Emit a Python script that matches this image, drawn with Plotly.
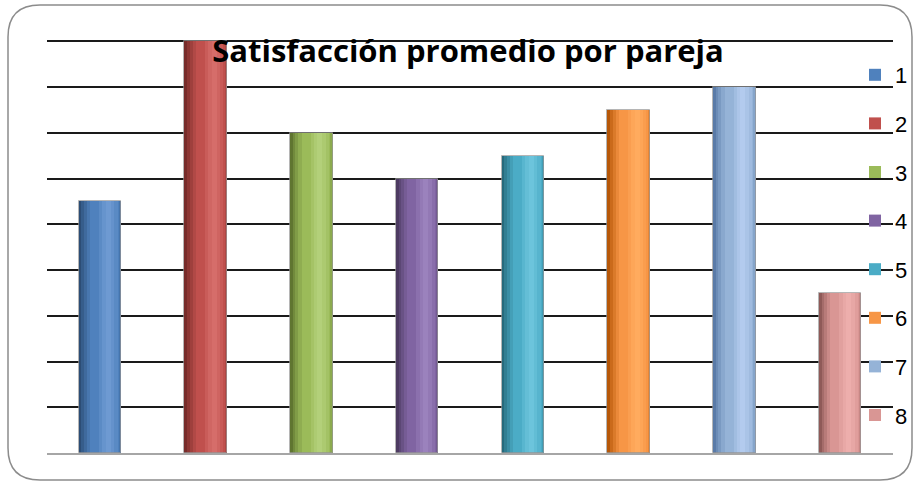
import plotly.graph_objects as go

# ---- data ----
categories = ["1", "2", "3", "4", "5", "6", "7", "8"]
values = [5.5, 9, 7, 6, 6.5, 7.5, 8, 3.5]
base_colors = ["#4F81BD", "#C0504D", "#9BBB59", "#8064A2", "#4BACC6", "#F79646", "#95B3D7", "#D99694"]
dark_colors = ["#2C4D75", "#772C2A", "#5F7530", "#4D3B62", "#276A7C", "#B65708", "#5A7BA8", "#8F5A58"]
light_colors = ["#6E9AD2", "#D66D6A", "#B3D07A", "#9B82BD", "#6CC4DC", "#FFAB5E", "#B3CBEE", "#EDAEAC"]
title_text = "Satisfacción promedio por pareja"

W, H = 918, 485
L, R, T, B = 47, 893, 39, 453  # plot area in pixels

fig = go.Figure()

bar_w = 0.4
xpos = list(range(len(categories)))

def mix(c1, c2, t):
    a = [int(c1[i:i + 2], 16) for i in (1, 3, 5)]
    b = [int(c2[i:i + 2], 16) for i in (1, 3, 5)]
    return "#" + "".join(f"{round(a[k] + (b[k] - a[k]) * t):02x}" for k in range(3))

for i, cat in enumerate(categories):
    bc, dc, lc = base_colors[i], dark_colors[i], light_colors[i]
    fig.add_trace(go.Bar(
        x=[xpos[i]], y=[values[i]], name=cat, legendgroup=cat,
        marker=dict(color=bc, line=dict(width=0)),
        width=bar_w, offset=-bar_w / 2, showlegend=True, hoverinfo="skip",
    ))
    strips = [
        (0.00, 0.06, dc),
        (0.06, 0.12, mix(dc, bc, 0.3)),
        (0.12, 0.19, mix(dc, bc, 0.55)),
        (0.19, 0.27, mix(dc, bc, 0.8)),
        (0.48, 0.56, mix(bc, lc, 0.4)),
        (0.56, 0.64, mix(bc, lc, 0.75)),
        (0.64, 0.76, lc),
        (0.76, 0.84, mix(bc, lc, 0.7)),
        (0.84, 0.92, mix(bc, lc, 0.35)),
        (0.95, 1.00, mix(bc, dc, 0.25)),
    ]
    for s0, s1, col in strips:
        fig.add_trace(go.Bar(
            x=[xpos[i]], y=[values[i]], legendgroup=cat,
            marker=dict(color=col, line=dict(width=0)),
            width=bar_w * (s1 - s0), offset=-bar_w / 2 + bar_w * s0,
            showlegend=False, hoverinfo="skip",
        ))
    fig.add_trace(go.Bar(
        x=[xpos[i]], y=[values[i]], legendgroup=cat,
        marker=dict(color="rgba(0,0,0,0)", line=dict(width=1, color="rgba(150,150,150,0.7)")),
        width=bar_w, offset=-bar_w / 2, showlegend=False, hoverinfo="skip",
    ))

pw, ph = R - L, B - T

def px_x(x):
    return (x - L) / pw

def px_y(y):
    return (B - y) / ph

# rounded border
x0, x1, y0, y1, r = 8, 912, 5, 480, 32
path = (
    f"M {px_x(x0 + r)},{px_y(y0)} L {px_x(x1 - r)},{px_y(y0)} "
    f"Q {px_x(x1)},{px_y(y0)} {px_x(x1)},{px_y(y0 + r)} "
    f"L {px_x(x1)},{px_y(y1 - r)} Q {px_x(x1)},{px_y(y1)} {px_x(x1 - r)},{px_y(y1)} "
    f"L {px_x(x0 + r)},{px_y(y1)} Q {px_x(x0)},{px_y(y1)} {px_x(x0)},{px_y(y1 - r)} "
    f"L {px_x(x0)},{px_y(y0 + r)} Q {px_x(x0)},{px_y(y0)} {px_x(x0 + r)},{px_y(y0)} Z"
)

ymax = 9.05

fig.update_layout(
    width=W, height=H,
    margin=dict(l=L, r=W - R, t=T, b=H - B, pad=0, autoexpand=False),
    paper_bgcolor="white", plot_bgcolor="white",
    barmode="overlay",
    showlegend=True,
    legend=dict(
        x=px_x(855), y=px_y(54), xanchor="left", yanchor="top",
        font=dict(family="Liberation Sans, Arial", size=22, color="black"),
        bgcolor="rgba(0,0,0,0)", tracegroupgap=17, itemwidth=30,
        traceorder="grouped",
    ),
    title=dict(
        text=f"<b>{title_text}</b>", x=px_x(468), xref="paper", xanchor="center",
        y=1 - 51 / H, yref="container", yanchor="middle",
        font=dict(family="Open Sans, Arial", size=31, color="black"),
    ),
    xaxis=dict(
        range=[-0.5, len(categories) - 0.5], showticklabels=False, ticks="",
        showgrid=False, zeroline=False, showline=True, linecolor="#A6A6A6", linewidth=2,
        fixedrange=True,
    ),
    yaxis=dict(
        range=[0, ymax], tickmode="array", tickvals=list(range(1, 10)),
        showticklabels=False, ticks="",
        showgrid=True, gridcolor="#1A1A1A", gridwidth=2, zeroline=False, showline=False,
        fixedrange=True,
    ),
    shapes=[dict(type="path", path=path, xref="paper", yref="paper",
                 line=dict(color="#8C8C8C", width=1.5), layer="below")],
    bargap=0,
)

fig.write_html("out.html")
